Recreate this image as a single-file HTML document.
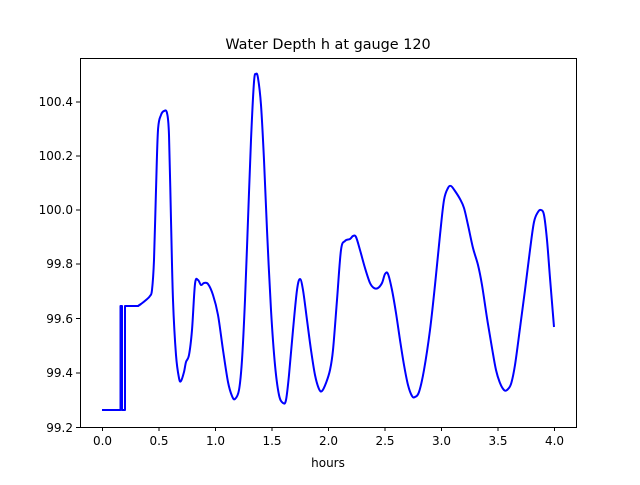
<!DOCTYPE html>
<html><head><meta charset="utf-8"><style>body{margin:0;background:#fff}</style></head><body>
<svg width="640" height="480" xmlns="http://www.w3.org/2000/svg" font-family="DejaVu Sans, Liberation Sans, sans-serif">
<rect width="640" height="480" fill="#fff"/>
<text x="328" y="49" font-size="14.4" text-anchor="middle">Water Depth h at gauge 120</text>
<polyline fill="none" stroke="#0000ff" stroke-width="2" stroke-linejoin="round" points="102,410 120.5,410 120.5,306 122,306 122,410 125,410 125,306 138,306 141,304"/>
<path id="c" fill="none" stroke="#0000ff" stroke-width="2" stroke-linejoin="round" d=""/>
<rect x="80.5" y="58.5" width="496" height="369" fill="none" stroke="#000" stroke-width="1"/>
<g stroke="#000" stroke-width="1">
<line x1="102.5" y1="427" x2="102.5" y2="431"/><line x1="159" y1="427" x2="159" y2="431"/><line x1="215.5" y1="427" x2="215.5" y2="431"/><line x1="272" y1="427" x2="272" y2="431"/><line x1="328.5" y1="427" x2="328.5" y2="431"/><line x1="385" y1="427" x2="385" y2="431"/><line x1="441.5" y1="427" x2="441.5" y2="431"/><line x1="498" y1="427" x2="498" y2="431"/><line x1="554.5" y1="427" x2="554.5" y2="431"/>
<line x1="76" y1="427.5" x2="80" y2="427.5"/><line x1="76" y1="373" x2="80" y2="373"/><line x1="76" y1="318.5" x2="80" y2="318.5"/><line x1="76" y1="264" x2="80" y2="264"/><line x1="76" y1="210" x2="80" y2="210"/><line x1="76" y1="156" x2="80" y2="156"/><line x1="76" y1="102" x2="80" y2="102"/>
</g>
<g font-size="12" text-anchor="middle">
<text x="102.5" y="445">0.0</text><text x="159" y="445">0.5</text><text x="215.5" y="445">1.0</text><text x="272" y="445">1.5</text><text x="328.5" y="445">2.0</text><text x="385" y="445">2.5</text><text x="441.5" y="445">3.0</text><text x="498" y="445">3.5</text><text x="554.5" y="445">4.0</text>
<text x="328" y="467">hours</text>
</g>
<g font-size="12" text-anchor="end">
<text x="73" y="432">99.2</text><text x="73" y="377">99.4</text><text x="73" y="323">99.6</text><text x="73" y="268">99.8</text><text x="73" y="214">100.0</text><text x="73" y="160">100.2</text><text x="73" y="106">100.4</text>
</g>
</svg>
<script>
var p=[[138,306],[141,304],[146,300],[150,296],[152,290],[154,260],[156,190],[158,130],[161,115],[164,111],[167,113],[169,135],[171,220],[173,300],[176,355],[179,378],[181,381],[184,372],[186,362],[189,355],[192,330],[195,284],[198,280],[201,285],[204,283],[208,284],[213,295],[218,315],[223,350],[228,382],[232,396],[235,399],[239,390],[242,360],[245,300],[248,220],[251,140],[254,82],[256,74],[258,78],[261,105],[264,160],[267,230],[271,310],[275,365],[279,395],[283,403],[286,400],[289,375],[293,330],[297,290],[300,279],[303,290],[307,320],[311,350],[315,375],[319,389],[322,391],[326,383],[330,370],[333,350],[337,300],[341,250],[345,241],[350,239],[353,236],[356,237],[360,250],[365,268],[370,283],[374,288],[378,288],[382,283],[385,274],[388,274],[392,290],[396,313],[400,340],[404,365],[408,385],[412,396],[415,397],[419,392],[424,370],[430,330],[435,285],[440,235],[444,200],[448,188],[451,186],[455,191],[460,199],[464,208],[468,225],[473,248],[478,265],[482,285],[487,318],[492,348],[496,370],[500,383],[504,390],[507,390],[511,384],[515,365],[520,328],[525,290],[530,250],[534,222],[538,212],[541,210],[544,215],[547,240],[550,278],[554,327]];
var d="M"+p[0][0]+","+p[0][1];
for(var i=0;i<p.length-1;i++){var a=p[i>0?i-1:0],b=p[i],c=p[i+1],e=p[i+2<p.length?i+2:i+1];
d+=" C"+(b[0]+(c[0]-a[0])/6)+","+(b[1]+(c[1]-a[1])/6)+" "+(c[0]-(e[0]-b[0])/6)+","+(c[1]-(e[1]-b[1])/6)+" "+c[0]+","+c[1];}
document.getElementById("c").setAttribute("d",d);
</script>
</body></html>
